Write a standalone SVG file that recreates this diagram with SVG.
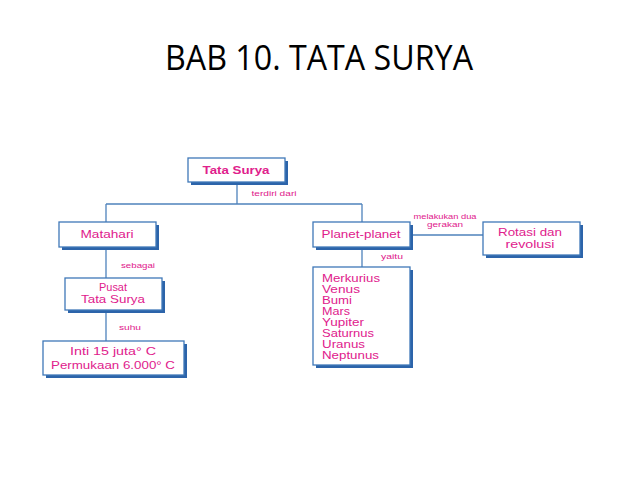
<svg xmlns="http://www.w3.org/2000/svg" width="638" height="479" viewBox="0 0 638 479">
<style>
.sh{fill:#2c64aa}
.bx{fill:#fff;stroke:#3f78b8;stroke-width:1.3}
.ln{stroke:#4f83bc;stroke-width:1.3;fill:none}
.t{font-family:"Liberation Sans",Arial,sans-serif;font-size:10.5px;fill:#e0208c;text-anchor:middle}
.tb{font-weight:bold}
.s{font-family:"Liberation Sans",Arial,sans-serif;font-size:7.5px;fill:#e0208c;text-anchor:middle}
.l{font-family:"Liberation Sans",Arial,sans-serif;font-size:10.5px;fill:#e0208c}
.title{font-family:"Open Sans","Liberation Sans",sans-serif;font-size:34px;fill:#000;text-anchor:middle}
</style>
<rect width="638" height="479" fill="#fff"/>
<text class="title" x="319" y="70" textLength="308" lengthAdjust="spacingAndGlyphs">BAB 10. TATA SURYA</text>
<g id="connectors">
<path class="ln" d="M237 182V204M106 204H362M106 204V222M362 204V222"/>
<path class="ln" d="M106 247V278M106 310V341"/>
<path class="ln" d="M410 235H483M362 247V267"/>
<text class="s" x="274" y="196" textLength="45" lengthAdjust="spacingAndGlyphs">terdiri dari</text>
<text class="s" x="138" y="268" textLength="34" lengthAdjust="spacingAndGlyphs">sebagai</text>
<text class="s" x="130" y="330" textLength="22" lengthAdjust="spacingAndGlyphs">suhu</text>
<text class="s" x="445" y="219" textLength="63" lengthAdjust="spacingAndGlyphs">melakukan dua</text>
<text class="s" x="445" y="227" textLength="36" lengthAdjust="spacingAndGlyphs">gerakan</text>
<text class="s" x="392" y="259" textLength="22" lengthAdjust="spacingAndGlyphs">yaitu</text>
</g>
<g id="tata-surya">
<rect class="sh" x="191" y="161" width="97" height="24"/>
<rect class="bx" x="188" y="158" width="97" height="24"/>
<text class="t tb" x="236" y="174" textLength="67" lengthAdjust="spacingAndGlyphs">Tata Surya</text>
</g>
<g id="matahari">
<rect class="sh" x="62" y="225" width="97" height="25"/>
<rect class="bx" x="59" y="222" width="97" height="25"/>
<text class="t" x="107" y="238" textLength="53" lengthAdjust="spacingAndGlyphs">Matahari</text>
</g>
<g id="pusat">
<rect class="sh" x="68" y="281" width="97" height="32"/>
<rect class="bx" x="65" y="278" width="97" height="32"/>
<text class="t" x="113" y="291" textLength="28" lengthAdjust="spacingAndGlyphs">Pusat</text>
<text class="t" x="113" y="303" textLength="64" lengthAdjust="spacingAndGlyphs">Tata Surya</text>
</g>
<g id="suhu-box">
<rect class="sh" x="46" y="344" width="141" height="34"/>
<rect class="bx" x="43" y="341" width="141" height="34"/>
<text class="t" x="113" y="355" textLength="86" lengthAdjust="spacingAndGlyphs">Inti 15 juta° C</text>
<text class="t" x="113" y="369" textLength="124" lengthAdjust="spacingAndGlyphs">Permukaan 6.000° C</text>
</g>
<g id="planet-planet">
<rect class="sh" x="316" y="225" width="97" height="25"/>
<rect class="bx" x="313" y="222" width="97" height="25"/>
<text class="t" x="361" y="238" textLength="79" lengthAdjust="spacingAndGlyphs">Planet-planet</text>
</g>
<g id="rotasi">
<rect class="sh" x="486" y="225" width="97" height="33"/>
<rect class="bx" x="483" y="222" width="97" height="33"/>
<text class="t" x="530" y="236" textLength="64" lengthAdjust="spacingAndGlyphs">Rotasi  dan</text>
<text class="t" x="530" y="248" textLength="49" lengthAdjust="spacingAndGlyphs">revolusi</text>
</g>
<g id="planets">
<rect class="sh" x="316" y="270" width="97" height="98"/>
<rect class="bx" x="313" y="267" width="97" height="98"/>
<text class="l" x="322" y="282" textLength="58" lengthAdjust="spacingAndGlyphs">Merkurius</text>
<text class="l" x="322" y="293" textLength="38" lengthAdjust="spacingAndGlyphs">Venus</text>
<text class="l" x="322" y="304" textLength="30" lengthAdjust="spacingAndGlyphs">Bumi</text>
<text class="l" x="322" y="315" textLength="28" lengthAdjust="spacingAndGlyphs">Mars</text>
<text class="l" x="322" y="326" textLength="42" lengthAdjust="spacingAndGlyphs">Yupiter</text>
<text class="l" x="322" y="337" textLength="52" lengthAdjust="spacingAndGlyphs">Saturnus</text>
<text class="l" x="322" y="348" textLength="43" lengthAdjust="spacingAndGlyphs">Uranus</text>
<text class="l" x="322" y="359" textLength="57" lengthAdjust="spacingAndGlyphs">Neptunus</text>
</g>
</svg>
